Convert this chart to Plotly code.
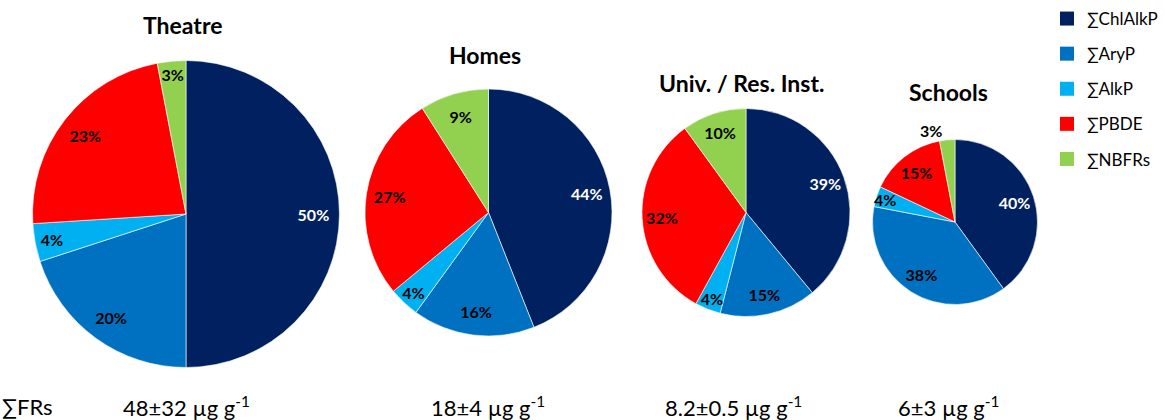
import plotly.graph_objects as go

W, H = 1165, 420

# Flame-retardant classes (legend order, clockwise from 12 o'clock)
classes = ["∑ChlAlkP", "∑AryP", "∑AlkP", "∑PBDE", "∑NBFRs"]
colors = ["#002060", "#0070C0", "#00B0F0", "#FF0000", "#92D050"]
label_colors = ["white", "black", "black", "black", "black"]

# Micro-environments and their class composition (%)
sites = ["Theatre", "Homes", "Univ. / Res. Inst.", "Schools"]
theatre = [50, 20, 4, 23, 3]
homes = [44, 16, 4, 27, 9]
univ = [39, 15, 4, 32, 10]
schools = [40, 38, 4, 15, 3]
shares = [theatre, homes, univ, schools]

# Total FR concentrations shown under each pie
totals = ["48±32 µg g<sup>-1</sup>", "18±4 µg g<sup>-1</sup>",
          "8.2±0.5 µg g<sup>-1</sup>", "6±3 µg g<sup>-1</sup>"]

# Pie placement in pixels: centre x, centre y, radius
cx = [186, 488.5, 746, 955]
cy = [214, 212.5, 212.5, 222]
rad = [153.5, 123.5, 104, 82.5]
# inner radius of the ring that carries the percentage labels
label_hole = [0.66, 0.62, 0.62, 0.52]
label_pos = [
    ["inside"] * 5,
    ["inside"] * 5,
    ["inside"] * 5,
    ["inside", "inside", "inside", "inside", "outside"],
]
title_x = [182, 485, 741, 948]
title_y = [25, 55, 83, 92]
total_x = [186, 488, 733, 948]

FONT = "Lato"

fig = go.Figure()
for i, site in enumerate(sites):
    dom = dict(
        x=[(cx[i] - rad[i]) / W, (cx[i] + rad[i]) / W],
        y=[1 - (cy[i] + rad[i]) / H, 1 - (cy[i] - rad[i]) / H],
    )
    # filled wedges
    fig.add_trace(go.Pie(
        labels=classes, values=shares[i], name=site,
        sort=False, direction="clockwise", rotation=0,
        marker=dict(colors=colors, line=dict(color="white", width=0.6)),
        textinfo="none", domain=dom, showlegend=False,
        hoverinfo="label+percent",
    ))
    # percentage labels, set in an outer ring over the same wedges
    fig.add_trace(go.Pie(
        labels=classes, values=shares[i], name=site,
        sort=False, direction="clockwise", rotation=0, hole=label_hole[i],
        marker=dict(colors=["rgba(0,0,0,0)"] * 5, line=dict(width=0)),
        texttemplate="%{percent:.0%}",
        textposition=label_pos[i],
        insidetextorientation="horizontal",
        textfont=dict(family=FONT, size=16, color=label_colors,
                      weight="bold"),
        outsidetextfont=dict(family=FONT, size=15, color="black",
                             weight="bold"),
        domain=dom, showlegend=False, hoverinfo="skip",
        automargin=False,
    ))
    fig.add_annotation(
        text=f"<b>{site}</b>", x=title_x[i] / W, y=1 - title_y[i] / H,
        xref="paper", yref="paper", showarrow=False,
        font=dict(family=FONT, size=23, color="black"),
        xanchor="center", yanchor="middle",
    )
    fig.add_annotation(
        text=totals[i], x=total_x[i] / W, y=1 - 406 / H,
        xref="paper", yref="paper", showarrow=False,
        font=dict(family=FONT, size=22, color="black"),
        xanchor="center", yanchor="middle",
    )

fig.add_annotation(
    text="∑FRs", x=0, y=1 - 406 / H, xref="paper", yref="paper",
    showarrow=False, font=dict(family=FONT, size=22, color="black"),
    xanchor="left", yanchor="middle",
)

# legend entries for the five classes
for name, col in zip(classes, colors):
    fig.add_trace(go.Scatter(
        x=[None], y=[None], mode="markers", name=name,
        marker=dict(symbol="square", size=14, color=col),
        legendgroup=name, showlegend=True, hoverinfo="skip",
    ))

fig.update_layout(
    width=W, height=H,
    margin=dict(l=0, r=0, t=0, b=0, autoexpand=False),
    paper_bgcolor="white", plot_bgcolor="white",
    xaxis=dict(visible=False), yaxis=dict(visible=False),
    uniformtext=dict(minsize=16, mode="show"),
    legend=dict(
        x=1047 / W, y=1 - 1 / H, xanchor="left", yanchor="top",
        font=dict(family=FONT, size=17, color="black"),
        traceorder="grouped", tracegroupgap=10,
        itemclick=False, itemdoubleclick=False,
    ),
)

fig.write_html("out.html")
